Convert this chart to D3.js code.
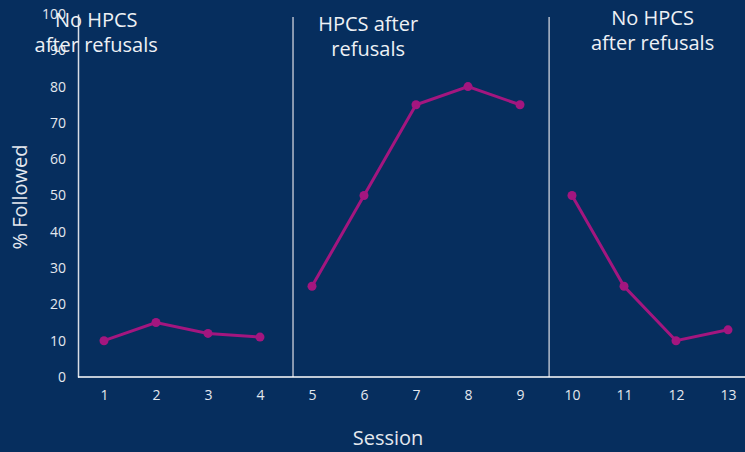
<!DOCTYPE html>
<html><head><meta charset="utf-8">
<script src="https://cdn.jsdelivr.net/npm/d3@7"></script>
<style>
html,body{margin:0;padding:0;background:#062e5e;}
svg{display:block;}
</style></head>
<body>
<script>
const sessions = [1,2,3,4,5,6,7,8,9,10,11,12,13];
const followed = [10,15,12,11,25,50,75,80,75,50,25,10,13];
const yTicks = [0,10,20,30,40,50,60,70,80,90,100];
const phaseChanges = [4.635, 9.56];
const phaseLabels = [
  {lines:["No HPCS","after refusals"], at:0.85},
  {lines:["HPCS after","refusals"], at:6.08},
  {lines:["No HPCS","after refusals"], at:11.55}
];

const W=745,H=452;
const font = "'Open Sans','Lato',sans-serif";
const svg = d3.select("body").append("svg").attr("width",W).attr("height",H);
svg.append("rect").attr("width",W).attr("height",H).attr("fill","#062e5e");

const x = d3.scaleLinear().domain([1,13]).range([104,728]);
const y = d3.scaleLinear().domain([0,100]).range([377,14]);
const x0 = x(0.5);

// phase lines
svg.selectAll("line.phase").data(phaseChanges).enter().append("line")
  .attr("x1",d=>x(d)).attr("x2",d=>x(d)).attr("y1",17).attr("y2",y(0))
  .attr("stroke","#b4bccb").attr("stroke-width",1.5);

// y axis
const yAxis = svg.append("g").attr("transform",`translate(${x0},0)`)
  .call(d3.axisLeft(y).tickValues(yTicks).tickSize(0).tickPadding(12));
yAxis.select(".domain").attr("stroke","#d8dde6").attr("stroke-width",1.5);
yAxis.selectAll("text").attr("fill","#e4e8ee").style("font-family",font).style("font-size","14px");

// x axis
const xAxis = svg.append("g").attr("transform",`translate(0,${y(0)})`)
  .call(d3.axisBottom(x).tickValues(sessions).tickFormat(d3.format("d")).tickSize(0).tickPadding(13));
xAxis.select(".domain").attr("d",`M${x0},0H${W+20}`).attr("stroke","#ffffff").attr("stroke-width",1.5);
xAxis.selectAll("text").attr("fill","#e4e8ee").style("font-family",font).style("font-size","14px");

// data segments (broken at phase changes)
const segs = [[],[],[]];
sessions.forEach((s,i)=>{
  const k = s<phaseChanges[0]?0:(s<phaseChanges[1]?1:2);
  segs[k].push({s, v:followed[i]});
});
const line = d3.line().x(d=>x(d.s)).y(d=>y(d.v));
svg.selectAll("path.seg").data(segs).enter().append("path")
  .attr("d",line).attr("fill","none").attr("stroke","#a3167f").attr("stroke-width",3);
svg.selectAll("circle.pt").data(sessions.map((s,i)=>({s,v:followed[i]}))).enter().append("circle")
  .attr("cx",d=>x(d.s)).attr("cy",d=>y(d.v)).attr("r",4.5).attr("fill","#a3167f");

// axis titles
svg.append("text").attr("x",388).attr("y",445).attr("text-anchor","middle")
  .attr("fill","#e4e8ee").style("font-family",font).style("font-size","20px").text("Session");
svg.append("text").attr("transform","translate(27,197) rotate(-90)").attr("text-anchor","middle")
  .attr("fill","#e4e8ee").style("font-family",font).style("font-size","20px").text("% Followed");

// phase labels
const tops=[27,31,25];
phaseLabels.forEach((p,i)=>{
  const t = svg.append("text").attr("text-anchor","middle").attr("fill","#eef1f5")
    .style("font-family",font).style("font-size","20px");
  p.lines.forEach((l,j)=>{
    t.append("tspan").attr("x",x(p.at)).attr("y",tops[i]+j*25).text(l);
  });
});
</script>
</body></html>
